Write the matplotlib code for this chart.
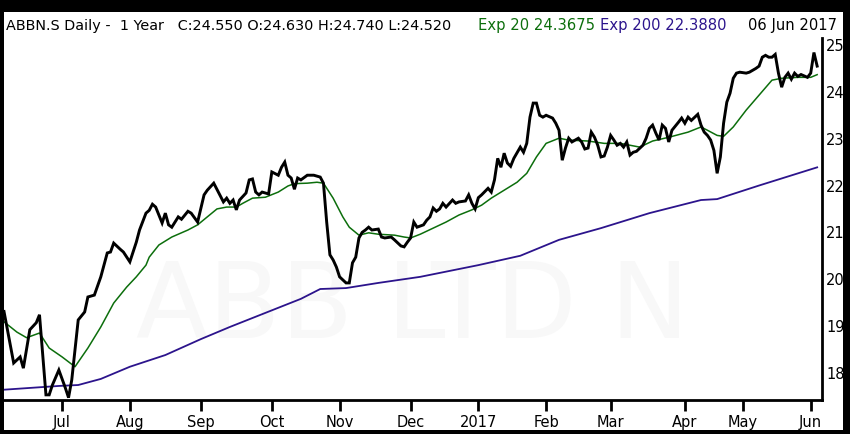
import matplotlib
matplotlib.use("Agg")
import matplotlib.pyplot as plt
from matplotlib.patches import Rectangle
import pandas as pd

# ---------------- data ----------------
holidays = ['2016-08-01', '2016-12-26', '2017-01-02', '2017-04-14',
            '2017-04-17', '2017-05-01', '2017-05-25', '2017-06-05']
trading_days = pd.bdate_range('2016-06-07', '2017-06-06', freq='C', holidays=holidays)

# close price: (trading-day index, value)
close_idx = [0, 3, 5, 6, 8, 10, 11, 13, 14, 15, 17, 19, 20, 21, 23, 25, 26, 28, 30, 32,
             33, 34, 36, 37, 39, 41, 42, 44, 45, 46, 47, 49, 50, 51, 52, 54, 55, 57, 58, 60,
             62, 63, 65, 68, 69, 70, 71, 72, 73, 75, 76, 77, 78, 79, 80, 82, 83, 85, 86, 87,
             88, 89, 90, 91, 92, 94, 96, 98, 99, 100, 101, 102, 103, 104, 106, 107, 108, 109, 110, 111,
             112, 113, 114, 116, 117, 118, 120, 121, 123, 124, 125, 126, 127, 128, 130, 131, 132, 133, 134, 135,
             136, 137, 139, 140, 141, 143, 144, 145, 146, 147, 148, 150, 151, 152, 153, 154, 155, 156, 157, 158,
             160, 161, 162, 163, 164, 165, 166, 167, 168, 170, 171, 172, 173, 174, 175, 176, 177, 178, 179, 180,
             181, 182, 183, 184, 185, 186, 187, 188, 189, 190, 191, 192, 193, 194, 195, 196, 198, 199, 200, 201,
             202, 203, 204, 205, 206, 207, 209, 210, 211, 212, 213, 215, 216, 217, 218, 219, 220, 221, 222, 223,
             224, 225, 226, 227, 228, 230, 231, 232, 233, 234, 235, 236, 237, 238, 239, 240, 241, 242, 243, 244,
             245, 246, 247, 249, 250, 251, 252]
close_val = [19.31, 18.21, 18.34, 18.10, 18.92, 19.07, 19.24, 17.53, 17.53, 17.74, 18.06, 17.68, 17.47, 17.85, 19.13, 19.30, 19.62, 19.66, 20.05, 20.56,
             20.58, 20.77, 20.64, 20.58, 20.37, 20.79, 21.05, 21.41, 21.47, 21.60, 21.54, 21.20, 21.41, 21.16, 21.11, 21.33, 21.28, 21.45, 21.41, 21.22,
             21.80, 21.90, 22.05, 21.65, 21.73, 21.62, 21.69, 21.48, 21.69, 21.84, 22.12, 22.14, 21.86, 21.80, 21.86, 21.82, 22.29, 22.22, 22.39, 22.50,
             22.22, 22.16, 21.92, 22.16, 22.12, 22.22, 22.22, 22.18, 22.05, 21.22, 20.52, 20.41, 20.26, 20.05, 19.92, 19.92, 20.35, 20.47, 20.88, 21.00,
             21.05, 21.11, 21.05, 21.07, 20.90, 20.88, 20.90, 20.84, 20.71, 20.69, 20.79, 20.88, 21.22, 21.11, 21.16, 21.26, 21.33, 21.52, 21.45, 21.50,
             21.62, 21.54, 21.69, 21.62, 21.65, 21.67, 21.80, 21.62, 21.50, 21.74, 21.80, 21.94, 21.86, 22.12, 22.58, 22.39, 22.69, 22.48, 22.41, 22.58,
             22.82, 22.71, 22.90, 23.46, 23.76, 23.76, 23.50, 23.46, 23.50, 23.44, 23.33, 23.18, 22.54, 22.80, 23.01, 22.93, 22.97, 23.01, 22.93, 22.78,
             22.80, 23.14, 23.03, 22.86, 22.61, 22.63, 22.82, 23.07, 22.97, 22.86, 22.90, 22.82, 22.93, 22.65, 22.71, 22.73, 22.86, 23.01, 23.22, 23.29,
             23.12, 22.97, 23.29, 23.22, 22.93, 23.18, 23.35, 23.44, 23.33, 23.46, 23.39, 23.52, 23.29, 23.14, 23.07, 22.97, 22.75, 22.26, 22.61, 23.33,
             23.78, 23.97, 24.29, 24.40, 24.42, 24.40, 24.42, 24.46, 24.50, 24.55, 24.74, 24.78, 24.74, 24.74, 24.80, 24.40, 24.10, 24.31, 24.40, 24.27,
             24.40, 24.33, 24.37, 24.31, 24.40, 24.84, 24.55]

# exponential moving average 20
ema20_idx = [0, 4, 7, 11, 14, 18, 22, 26, 30, 34, 38, 41, 44, 45, 48, 52, 57, 60, 63, 66,
             69, 72, 74, 77, 81, 85, 88, 90, 94, 97, 99, 102, 105, 107, 110, 113, 116, 121, 124, 126,
             129, 133, 137, 141, 145, 148, 151, 155, 159, 162, 165, 168, 172, 175, 181, 186, 191, 197, 201, 206,
             212, 216, 218, 221, 223, 226, 230, 234, 238, 241, 246, 250, 252]
ema20_val = [19.09, 18.87, 18.75, 18.85, 18.53, 18.34, 18.13, 18.53, 18.98, 19.49, 19.83, 20.05, 20.30, 20.47, 20.73, 20.90, 21.05, 21.16, 21.33, 21.50,
             21.54, 21.54, 21.62, 21.73, 21.75, 21.86, 21.99, 22.04, 22.05, 22.07, 22.05, 21.73, 21.33, 21.11, 20.94, 20.99, 20.96, 20.94, 20.90, 20.88,
             20.96, 21.09, 21.22, 21.37, 21.48, 21.58, 21.73, 21.90, 22.07, 22.26, 22.61, 22.90, 23.01, 22.97, 22.95, 22.90, 22.90, 22.82, 22.95, 23.03,
             23.14, 23.25, 23.18, 23.07, 23.05, 23.25, 23.61, 23.93, 24.25, 24.29, 24.31, 24.31, 24.3675]

# exponential moving average 200
ema200_idx = [0, 17, 23, 30, 39, 50, 61, 70, 81, 92, 98, 106, 116, 129, 147, 160, 172, 185, 200, 216,
              221, 234, 252]
ema200_val = [17.64, 17.72, 17.74, 17.87, 18.13, 18.38, 18.72, 18.98, 19.28, 19.58, 19.79, 19.81, 19.92, 20.05, 20.30, 20.50, 20.84, 21.09, 21.41, 21.69,
              21.71, 22.00, 22.388]

y_ticks = [18, 19, 20, 21, 22, 23, 24, 25]
header_main = "ABBN.S Daily -  1 Year   C:24.550 O:24.630 H:24.740 L:24.520"
header_ema20 = "Exp 20 24.3675"
header_ema200 = "Exp 200 22.3880"
header_date = "06 Jun 2017"
watermark = "ABB LTD N"

# month ticks derived from trading calendar
month_pos, month_lab = [], []
prev = None
for i, d in enumerate(trading_days):
    key = (d.year, d.month)
    if key != prev:
        if i > 0:
            month_pos.append(i)
            month_lab.append(str(d.year) if d.month == 1 else d.strftime('%b'))
        prev = key

# ---------------- figure ----------------
W, H = 850, 434
fig = plt.figure(figsize=(W / 100, H / 100), dpi=100, facecolor='black')
bg = Rectangle((4 / W, 4 / H), (843 - 4) / W, (422 - 4) / H,
               transform=fig.transFigure, facecolor='white',
               edgecolor='none', zorder=-10)
fig.add_artist(bg)

ax = fig.add_axes([4 / W, (H - 400) / H, (822 - 4) / W, (400 - 38) / H])
ax.set_zorder(1)
ax.set_facecolor('white')

ax.text(0.5, 0.25, watermark, transform=ax.transAxes, ha='center', va='center',
        fontsize=76, color='#f8f8f8', zorder=0, family='DejaVu Sans')

ax.plot(ema200_idx, ema200_val, color='#2c148c', lw=1.3, zorder=2)
ax.plot(ema20_idx, ema20_val, color='#0c6e0c', lw=1.1, zorder=3)
ax.plot(close_idx, close_val, color='black', lw=2.1, zorder=4, solid_joinstyle='miter')

ax.set_xlim(0, 253.5)
ax.set_ylim(17.42, 25.15)

for s in ['top', 'left']:
    ax.spines[s].set_visible(False)
for s in ['right', 'bottom']:
    ax.spines[s].set_linewidth(2)
    ax.spines[s].set_color('black')

ax.yaxis.tick_right()
ax.set_yticks(y_ticks)
ax.tick_params(axis='y', length=0, pad=3, labelsize=10.5, labelcolor='black')
ax.set_xticks(month_pos)
ax.set_xticklabels(month_lab)
ax.tick_params(axis='x', direction='out', length=8, width=2, pad=3, labelsize=10.5)

# header texts
ty = 1 - 30 / H
fig.text(6 / W, ty, header_main, fontsize=10.4, color='black', va='baseline', zorder=5)
fig.text(478 / W, ty, header_ema20, fontsize=10.6, color='#0c6e0c', va='baseline', zorder=5)
fig.text(600 / W, ty, header_ema200, fontsize=10.6, color='#2c148c', va='baseline', zorder=5)
fig.text(837 / W, ty, header_date, fontsize=10.6, color='black', va='baseline', ha='right', zorder=5)

fig.savefig('out.png', dpi=100, facecolor='black')
